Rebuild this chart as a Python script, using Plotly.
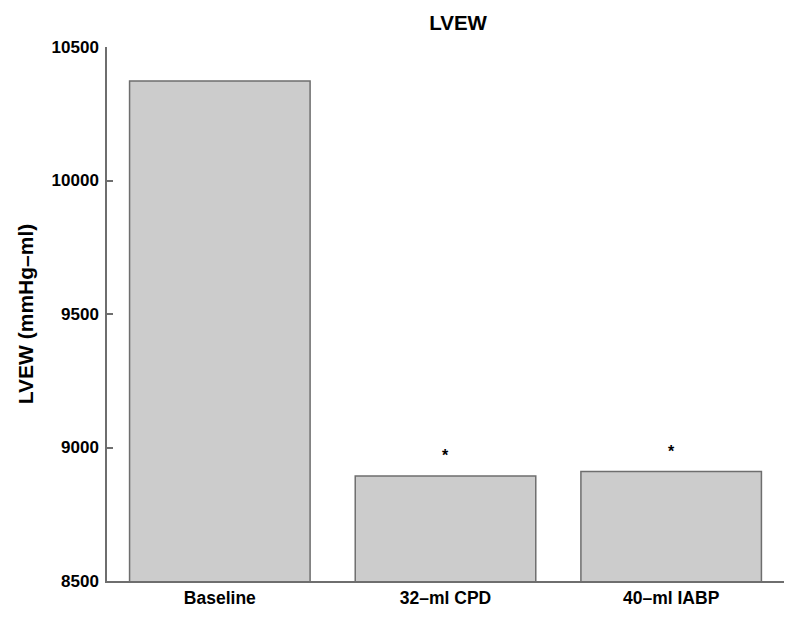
import plotly.graph_objects as go

categories = ["Baseline", "32–ml CPD", "40–ml IABP"]
lvew = [10373, 8893, 8910]
significance = ["", "*", "*"]
y_ticks = [8500, 9000, 9500, 10000, 10500]

font_family = "Liberation Sans, Arial, sans-serif"

fig = go.Figure()
fig.add_trace(go.Bar(
    x=categories,
    y=lvew,
    width=0.8,
    marker=dict(color="#cccccc", line=dict(color="#6e6e6e", width=1.5)),
    showlegend=False,
))

for cat, val, sig in zip(categories, lvew, significance):
    if sig:
        fig.add_annotation(x=cat, y=val, text="<b>" + sig + "</b>", showarrow=False,
                           yanchor="bottom", yshift=10,
                           font=dict(family=font_family, size=16, color="black"))

# body has an 8px default margin, so the figure is slightly smaller than the window
fig.update_layout(
    width=792, height=612,
    margin=dict(l=99, r=16, t=39, b=30),
    paper_bgcolor="white", plot_bgcolor="white",
    title=dict(text="<b>LVEW</b>", x=0.5683, xanchor="center", y=1 - 15 / 612, yanchor="middle",
               font=dict(family=font_family, size=20.5, color="black")),
    font=dict(family=font_family, color="black"),
)
fig.update_xaxes(
    range=[-0.5, 2.5],
    showline=True, linecolor="#6e6e6e", linewidth=1.5,
    ticks="", showgrid=False, zeroline=False,
    tickfont=dict(family=font_family, size=17.5, color="black"),
    tickprefix="<b>", ticksuffix="</b>",
)
fig.update_yaxes(
    range=[8500, 10500],
    tickvals=y_ticks,
    ticktext=["<b>%d</b>" % v for v in y_ticks],
    showline=True, linecolor="#6e6e6e", linewidth=1.5,
    ticks="inside", ticklen=6, tickcolor="#6e6e6e", tickwidth=1.5,
    ticklabelstandoff=3,
    showgrid=False, zeroline=False,
    tickfont=dict(family=font_family, size=17, color="black"),
    title=dict(text="<b>LVEW (mmHg–ml)</b>", standoff=12,
               font=dict(family=font_family, size=21, color="black")),
)

fig.write_html("out.html")
